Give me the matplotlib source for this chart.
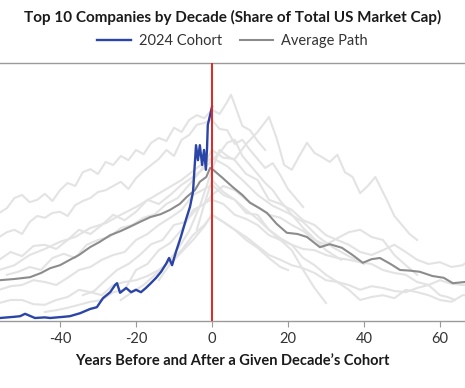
import numpy as np
import matplotlib
matplotlib.use("Agg")
import matplotlib.pyplot as plt

plt.rcParams['font.family'] = ['Lato', 'DejaVu Sans']

# 2024 cohort (share of total US market cap, %)
blue_years = [-55.8, -52.0, -50.5, -49.2, -46.6, -44.0, -42.6, -39.0, -37.4, -34.7,
              -32.1, -30.3, -28.7, -26.8, -25.5, -25.0, -24.2, -22.6, -21.3, -20.0,
              -18.7, -17.4, -16.1, -14.7, -13.4, -12.1, -11.3, -10.5, -9.5, -8.2,
              -6.8, -5.8, -5.0, -4.2, -3.7, -3.2, -2.6, -2.1, -1.6, -1.3,
              -1.1, -0.5, 0.0]
blue_share = [0.5, 0.7, 0.8, 1.2, 0.5, 0.6, 0.5, 0.7, 0.8, 1.3,
              2.0, 2.3, 3.8, 4.8, 6.0, 6.3, 4.7, 5.5, 4.8, 5.2,
              4.8, 5.5, 6.3, 7.2, 8.2, 9.5, 10.5, 9.3, 11.5, 14.0,
              17.0, 19.0, 21.5, 29.3, 26.8, 29.3, 26.0, 28.5, 25.2, 28.8,
              32.7, 34.3, 35.7]

# average path across cohorts
avg_years = [-55.8, -52.0, -47.9, -45.0, -42.6, -40.0, -37.4, -35.0, -32.1, -29.5,
             -26.8, -24.0, -21.6, -19.0, -16.3, -13.5, -11.1, -8.5, -6.6, -4.5,
             -3.2, -1.5, -0.5, 0.3, 2.5, 5.5, 8.0, 10.0, 12.5, 14.5,
             17.0, 19.7, 22.5, 25.0, 28.4, 31.0, 34.2, 37.0, 39.7, 42.0,
             44.2, 47.0, 49.5, 52.0, 54.7, 58.0, 61.0, 63.4, 66.6]
avg_share = [6.8, 7.0, 7.3, 8.0, 8.8, 9.3, 10.2, 11.0, 12.3, 13.2,
             14.3, 15.0, 15.7, 16.5, 17.3, 17.8, 18.5, 19.5, 20.7, 21.8,
             23.2, 24.0, 25.5, 25.2, 24.0, 22.3, 21.0, 19.7, 18.8, 18.0,
             16.2, 14.7, 14.5, 14.0, 12.3, 12.8, 12.2, 11.0, 9.7, 10.3,
             10.5, 9.5, 8.5, 8.4, 8.2, 7.5, 7.2, 6.3, 6.5]

# individual decade cohorts (light grey background paths)
c2010_years = [-56, -54, -52, -50, -48, -46, -44, -42, -40, -38, -36, -34, -32, -30,
               -28, -26, -24, -22, -20, -18, -16, -14, -12, -10, -8, -6, -4, -2,
               0, 2, 4, 5, 6, 8, 10, 12, 14]
c2010_share = [18.0, 18.8, 20.5, 21.0, 19.8, 20.2, 21.2, 20.0, 21.8, 23.0, 22.5, 24.8,
               25.3, 24.5, 26.5, 26.0, 27.5, 26.8, 28.5, 27.8, 29.7, 30.5, 30.0, 32.2,
               31.5, 33.5, 34.3, 33.8, 35.2, 34.5, 36.5, 37.7, 36.0, 32.5, 31.8, 30.0,
               28.5]

c2000_years = [-56, -54, -52, -50, -48, -46, -44, -42, -40, -38, -36, -34, -32, -30,
               -28, -26, -24, -22, -20, -18, -16, -14, -12, -10, -8, -6, -4, -2,
               0, 2, 4, 6, 8, 10, 12, 14, 16, 18, 20, 22, 24]
c2000_share = [14.0, 14.8, 15.2, 14.5, 16.5, 17.5, 17.2, 18.0, 18.2, 17.5, 19.3, 20.0,
               20.5, 21.5, 21.8, 22.5, 23.2, 22.0, 23.8, 25.0, 26.0, 27.0, 28.5, 27.5,
               30.2, 31.0, 32.7, 33.0, 33.5, 32.0, 31.8, 29.5, 30.2, 28.5, 27.0, 25.5,
               26.3, 24.3, 22.0, 20.5, 19.0]

c1990_years = [-56, -53, -50, -47, -44, -41, -38, -35, -32, -29, -26, -23, -20, -17,
               -14, -11, -8, -5, -2, 0, 2, 4, 6, 8, 10, 12, 14, 16, 18, 20, 22, 24,
               26, 28, 30, 32, 34]
c1990_share = [10.2, 11.5, 10.8, 12.5, 12.7, 12.0, 13.5, 15.2, 14.5, 16.0, 17.7, 16.8,
               18.2, 20.2, 19.5, 21.0, 22.7, 24.0, 25.5, 26.8, 28.0, 29.7, 30.2, 27.5,
               26.0, 24.5, 23.0, 21.8, 20.0, 18.5, 17.0, 15.5, 14.3, 13.0, 11.8, 11.0,
               10.2]

c1980_years = [-54, -51, -48, -45, -42, -39, -36, -33, -30, -27, -24, -21, -18, -15,
               -12, -9, -6, -3, 0, 3, 6, 9, 12, 15, 17, 19, 21, 23, 25, 27, 29, 31,
               33, 35, 37, 39, 41, 43, 46, 48, 50, 52, 54]
c1980_share = [7.7, 8.2, 9.0, 8.5, 10.5, 11.2, 10.5, 12.7, 13.5, 14.0, 15.5, 16.0,
               17.2, 17.8, 19.5, 20.5, 22.7, 25.0, 28.5, 27.2, 27.0, 29.5, 31.5, 34.0,
               30.5, 26.0, 25.2, 27.5, 29.7, 28.0, 27.3, 26.5, 27.7, 24.8, 24.0, 21.3,
               22.5, 24.0, 20.2, 17.5, 16.0, 14.5, 13.5]

c1970_years = [-44, -41, -38, -35, -32, -29, -26, -23, -20, -17, -14, -11, -8, -5,
               -2, 0, 3, 6, 9, 12, 15, 18, 21, 24, 27, 30, 33, 36, 39, 42, 45, 48,
               51, 54]
c1970_share = [1.5, 1.8, 2.2, 2.7, 3.2, 3.5, 4.8, 5.2, 8.5, 9.5, 11.8, 13.0, 15.2,
               18.5, 19.5, 21.0, 22.5, 21.8, 20.2, 19.0, 17.7, 17.2, 16.0, 15.0, 13.5,
               12.7, 13.8, 14.8, 15.2, 14.0, 13.5, 11.0, 9.3, 7.7]

c1960_years = [-34, -31, -28, -25, -22, -19, -16, -13, -10, -7, -4, -1, 0, 3, 6, 9,
               12, 15, 18, 21, 24, 27, 30, 33, 36, 39, 42, 45, 48, 51, 54, 57, 60,
               62, 64]
c1960_share = [4.3, 5.0, 6.8, 8.5, 9.5, 11.0, 12.8, 13.5, 16.0, 16.5, 18.7, 20.0,
               20.2, 19.5, 17.7, 17.0, 16.0, 14.3, 13.5, 12.7, 12.0, 11.8, 11.0, 10.5,
               10.2, 9.8, 9.5, 8.5, 8.0, 7.7, 6.5, 6.0, 4.3, 4.0, 3.5]

c1950_years = [-24, -21, -18, -15, -12, -9, -6, -3, 0, 2, 4, 6, 9, 12, 15, 18, 21,
               24, 27, 30, 33, 36, 39, 42, 45, 48, 51, 54, 57, 60, 63, 66, 67]
c1950_share = [3.5, 4.8, 6.0, 7.7, 9.5, 12.0, 15.0, 19.5, 25.2, 28.5, 27.5, 26.8,
               24.5, 23.5, 20.2, 19.5, 18.5, 16.8, 16.0, 14.3, 13.5, 12.7, 11.5, 11.0,
               11.8, 12.7, 11.5, 10.2, 9.5, 9.8, 9.0, 9.3, 9.8]

c1940_years = [-14, -11, -8, -5, -2, 0, 3, 6, 9, 12, 15, 18, 21, 24, 27, 30, 33, 36,
               39, 42, 45, 48, 51, 54, 57, 60, 63, 66, 67]
c1940_share = [6.8, 9.5, 11.5, 13.5, 15.8, 17.7, 16.5, 15.2, 14.0, 12.5, 11.0, 10.2,
               9.3, 8.8, 8.0, 6.8, 6.5, 6.0, 5.2, 5.8, 5.5, 5.0, 4.8, 5.5, 6.0, 6.8,
               6.2, 6.0, 6.0]

c1930_years = [-4, -2, 0, 3, 6, 9, 12, 15, 18, 21, 24, 27, 30, 33, 36, 39, 42, 45,
               48, 51, 54, 57, 60, 63, 66, 67]
c1930_share = [15.2, 19.5, 23.5, 21.5, 20.2, 18.0, 17.7, 15.2, 13.8, 12.7, 10.5, 9.3,
               7.7, 6.5, 5.2, 3.5, 4.0, 4.3, 3.8, 5.2, 4.8, 4.3, 3.5, 3.2, 4.3, 4.3]

cx1_years = [-56, -53, -50, -47, -44, -41, -38, -35, -32, -29, -26, -23, -20, -17,
             -14, -11, -8, -5, -2, 0, 3, 6, 9, 12, 15, 18, 21, 24, 27, 30]
cx1_share = [5.2, 5.8, 6.0, 6.8, 6.5, 6.0, 7.2, 8.5, 9.0, 10.2, 11.0, 11.5, 13.5,
             14.5, 16.0, 17.2, 18.5, 21.0, 22.0, 22.7, 21.0, 20.2, 18.5, 17.0, 15.2,
             13.5, 11.8, 8.5, 5.5, 3.0]

cx2_years = [-56, -53, -50, -47, -44, -41, -38, -35, -32, -29, -26, -23, -20, -17,
             -14, -11, -8, -5, -2, 0, 3, 6, 9, 12, 15, 18, 20]
cx2_share = [3.0, 3.5, 3.5, 2.8, 2.7, 3.5, 4.0, 5.2, 4.8, 4.3, 6.0, 6.5, 6.8, 7.5,
             8.5, 10.0, 11.8, 14.3, 16.0, 17.7, 16.5, 15.2, 13.5, 12.2, 10.5, 9.0,
             8.5]

cx3_years = [-56, -52, -48, -44, -40, -36, -32, -28, -24, -20, -16, -12, -8, -4, 0,
             4, 8, 12, 16, 20, 24, 28, 32, 36, 40]
cx3_share = [8.5, 9.3, 11.0, 12.0, 13.2, 14.0, 15.5, 16.3, 17.7, 19.0, 20.5, 22.0,
             23.5, 25.5, 27.2, 25.8, 23.5, 21.0, 19.2, 18.0, 16.5, 14.0, 12.2, 10.8,
             9.5]

cohorts = [(c2010_years, c2010_share), (c2000_years, c2000_share),
           (c1990_years, c1990_share), (c1980_years, c1980_share),
           (c1970_years, c1970_share), (c1960_years, c1960_share),
           (c1950_years, c1950_share), (c1940_years, c1940_share),
           (c1930_years, c1930_share), (cx1_years, cx1_share),
           (cx2_years, cx2_share), (cx3_years, cx3_share)]

fig = plt.figure(figsize=(4.65, 3.88), dpi=100)
ax = fig.add_axes([0.0, 0.1727, 1.0, 0.665])

for yrs, sh in cohorts:
    ax.plot(yrs, sh, color="#e3e3e3", lw=1.5, zorder=1)

ax.plot(avg_years, avg_share, color="#8c8c8c", lw=1.5, zorder=3, label="Average Path")
ax.plot(blue_years, blue_share, color="#2b45a6", lw=1.7, zorder=4, label="2024 Cohort")
ax.axvline(0, color="#e8231f", lw=1.4, zorder=5)

ax.set_xlim(-55.8, 66.6)
ax.set_ylim(0, 43)
ax.set_yticks([])
ax.set_xticks([-40, -20, 0, 20, 40, 60])
ax.set_xticklabels(["-40", "-20", "0", "20", "40", "60"])

for s in ["left", "right"]:
    ax.spines[s].set_visible(False)
for s in ["top", "bottom"]:
    ax.spines[s].set_color("#9a9a9a")
    ax.spines[s].set_linewidth(1.0)
ax.tick_params(axis="x", length=4, color="#9a9a9a", labelsize=10.5,
               labelcolor="#333333", pad=4)

ax.set_xlabel("Years Before and After a Given Decade\u2019s Cohort",
              fontsize=10.5, fontweight="bold", color="#1a1a1a", labelpad=6)

fig.text(0.5, 0.954, "Top 10 Companies by Decade (Share of Total US Market Cap)",
         ha="center", va="center", fontsize=11, fontweight="bold", color="#1a1a1a")

h, l = ax.get_legend_handles_labels()
fig.legend(h[::-1], l[::-1], loc="center", bbox_to_anchor=(0.5, 0.894),
           ncol=2, frameon=False, fontsize=10.5, handlelength=2.3,
           columnspacing=1.2, handletextpad=0.55, labelcolor="#333333",
           borderaxespad=0, borderpad=0)

fig.savefig("out.png", dpi=100)
